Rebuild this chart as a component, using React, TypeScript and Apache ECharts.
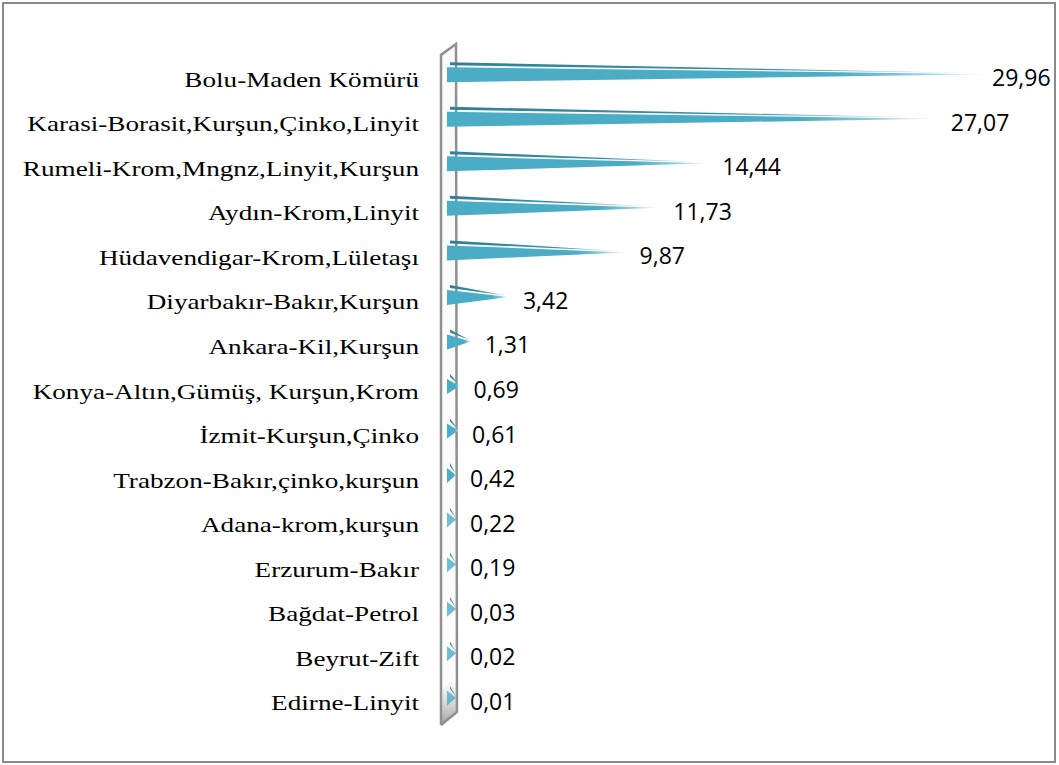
import React, { useEffect, useRef } from "react";
import * as echarts from "echarts";

const categories = [
  "Bolu-Maden Kömürü",
  "Karasi-Borasit,Kurşun,Çinko,Linyit",
  "Rumeli-Krom,Mngnz,Linyit,Kurşun",
  "Aydın-Krom,Linyit",
  "Hüdavendigar-Krom,Lületaşı",
  "Diyarbakır-Bakır,Kurşun",
  "Ankara-Kil,Kurşun",
  "Konya-Altın,Gümüş, Kurşun,Krom",
  "İzmit-Kurşun,Çinko",
  "Trabzon-Bakır,çinko,kurşun",
  "Adana-krom,kurşun",
  "Erzurum-Bakır",
  "Bağdat-Petrol",
  "Beyrut-Zift",
  "Edirne-Linyit",
];

const values = [29.96, 27.07, 14.44, 11.73, 9.87, 3.42, 1.31, 0.69, 0.61, 0.42, 0.22, 0.19, 0.03, 0.02, 0.01];

const fmt = (v: number) => v.toFixed(2).replace(".", ",");

export default function App() {
  const ref = useRef<HTMLDivElement>(null);

  useEffect(() => {
    if (!ref.current) return;
    const chart = echarts.init(ref.current, null, { renderer: "svg" });

    const mainGrad = () =>
      new echarts.graphic.LinearGradient(0, 0, 1, 0, [
        { offset: 0, color: "#4BACC6" },
        { offset: 0.72, color: "#4BACC6" },
        { offset: 0.88, color: "#93d0e0" },
        { offset: 1, color: "rgba(238,238,238,0.7)" },
      ]);
    const darkGrad = () =>
      new echarts.graphic.LinearGradient(0, 0, 1, 0, [
        { offset: 0, color: "#2F8098" },
        { offset: 0.6, color: "#3a90a8" },
        { offset: 0.85, color: "#9fd3e2" },
        { offset: 1, color: "rgba(238,238,238,0.6)" },
      ]);

    const option: any = {
      animation: false,
      backgroundColor: "#ffffff",
      grid: { left: 447, top: 56, bottom: 41, right: 33, containLabel: false },
      xAxis: {
        type: "value",
        min: 0,
        max: 32,
        show: false,
      },
      yAxis: {
        type: "category",
        inverse: true,
        data: categories,
        axisLine: { show: false },
        axisTick: { show: false },
        splitLine: { show: false },
        axisLabel: { show: false },
      },
      graphic: [
        {
          type: "rect",
          z: 0,
          shape: { x: 3, y: 3, width: 1052, height: 759 },
          style: { fill: "none", stroke: "#8a8a8a", lineWidth: 2 },
        },
        {
          type: "polygon",
          z: 0,
          shape: { points: [[441, 55], [456, 44], [457, 712], [441, 725]] },
          style: { fill: "#fbfbfb" },
        },
        {
          type: "polygon",
          z: 0,
          shape: { points: [[441, 690], [457, 680], [457, 712], [441, 725]] },
          style: {
            fill: new echarts.graphic.LinearGradient(0, 0, 0, 1, [
              { offset: 0, color: "rgba(200,200,200,0)" },
              { offset: 1, color: "rgba(150,150,150,0.9)" },
            ]),
          },
        },
        {
          type: "polyline",
          z: 1,
          shape: { points: [[441, 725], [441, 55], [456, 44], [457, 712], [441, 725]] },
          style: { fill: "none", stroke: "#909090", lineWidth: 2.5 },
        },
      ],
      series: [
        {
          type: "custom",
          z: 5,
          data: values.map((v, i) => [v, i]),
          encode: { x: 0, y: 1 },
          renderItem: (params: any, api: any) => {
            const v = api.value(0);
            const idx = api.value(1);
            const s = api.coord([0, idx]);
            const e = api.coord([v, idx]);
            const x0 = s[0];
            const yc = s[1];
            const xt = Math.max(e[0], x0 + 9);
            const small = v < 0.3;
            const labelX = Math.min(xt + 14, 992);
            return {
              type: "group",
              children: [
                {
                  type: "text",
                  x: x0 - 28,
                  y: yc + 1,
                  scaleX: 1.235,
                  style: {
                    text: categories[idx],
                    fill: "#000000",
                    fontSize: 22,
                    fontFamily: "'Liberation Serif', 'Times New Roman', serif",
                    align: "right",
                    verticalAlign: "middle",
                  },
                },
                {
                  type: "polygon",
                  shape: { points: [[x0 + 3, yc - 16], [x0 + 3, yc - 13], [xt, yc - 5]] },
                  style: { fill: small ? "rgba(47,128,152,0.8)" : darkGrad() },
                },
                {
                  type: "polygon",
                  shape: { points: [[x0, yc - 11], [x0, yc + 4], [xt, yc - 4]] },
                  style: { fill: small ? "rgba(75,172,198,0.8)" : mainGrad() },
                },
                {
                  type: "text",
                  x: labelX,
                  y: yc - 1,
                  style: {
                    text: fmt(v),
                    fill: "#000000",
                    fontSize: 23,
                    fontFamily: "'Open Sans', sans-serif",
                    align: "left",
                    verticalAlign: "middle",
                  },
                },
              ],
            };
          },
        },
      ],
    };

    chart.setOption(option);
    return () => chart.dispose();
  }, []);

  return (
    <div
      ref={ref}
      style={{ position: "fixed", left: 0, top: 0, width: 1059, height: 765, background: "#fff" }}
    />
  );
}
